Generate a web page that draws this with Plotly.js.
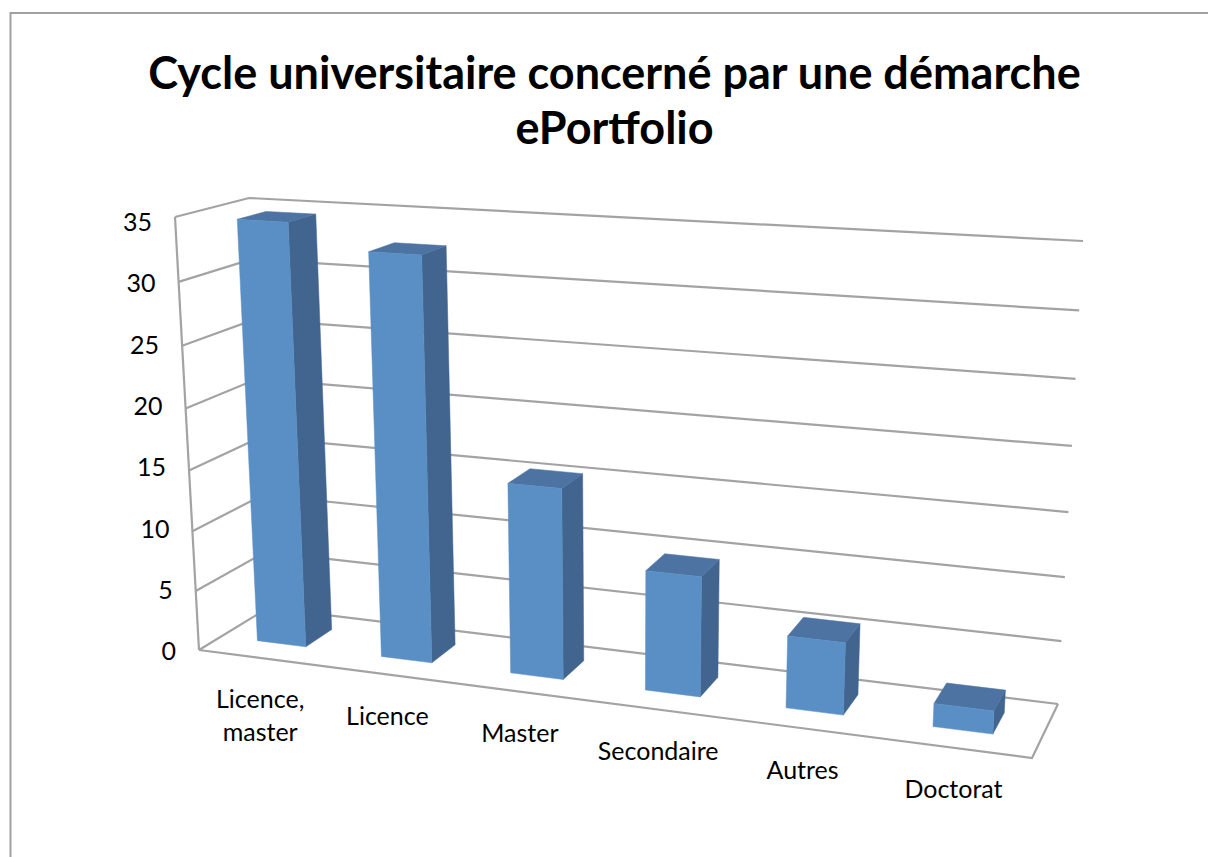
<!DOCTYPE html>
<html><head><meta charset="utf-8">
<script src="https://cdn.plot.ly/plotly-3.0.1.min.js"></script>
<style>html,body{margin:0;padding:0;background:#fff}#c{width:1208px;height:857px}</style></head>
<body><div id="c"></div>
<script>
const categories = ['Licence,<br>master','Licence','Master','Secondaire','Autres','Doctorat'];
const values = [34.5, 32.6, 15.4, 9.6, 5.7, 1.8];
const yTicks = [0,5,10,15,20,25,30,35];
const yMax = 35;

// corners of the 3D chart box as seen on the page
const FRONT = {bl:[199,650], br:[1032,758], tl:[175,217], tr:[1060,269]};
const BACK  = {bl:[268,608], br:[1058,704], tl:[249,198], tr:[1083,241]};

function quad(q){ // unit square -> quadrilateral homography
  const [x0,y0]=q.bl,[x1,y1]=q.br,[x2,y2]=q.tr,[x3,y3]=q.tl;
  const dx1=x1-x2,dx2=x3-x2,sx=x0-x1+x2-x3,dy1=y1-y2,dy2=y3-y2,sy=y0-y1+y2-y3;
  const den=dx1*dy2-dx2*dy1;
  const g=(sx*dy2-dx2*sy)/den,h=(dx1*sy-sx*dy1)/den;
  const a=x1-x0+g*x1,b=x3-x0+h*x3,d=y1-y0+g*y1,e=y3-y0+h*y3;
  return (u,v)=>{const w=g*u+h*v+1;return [(a*u+b*v+x0)/w,(d*u+e*v+y0)/w];};
}
const hF=quad(FRONT),hB=quad(BACK);
function P(cat,val,depth){
  const u=cat/categories.length,v=val/yMax;
  const A=hF(u,v),B=hB(u,v);
  return [A[0]+(B[0]-A[0])*depth,A[1]+(B[1]-A[1])*depth];
}
const traces=[];
const GRID='#a3a3a3';
function line(pts,w){traces.push({type:'scatter',mode:'lines',x:pts.map(p=>p[0]),y:pts.map(p=>p[1]),
  line:{color:GRID,width:w||2.2},hoverinfo:'skip',showlegend:false});}
const N=categories.length;
// gridlines: left wall then back wall
yTicks.forEach(t=>line([P(0,t,0),P(0,t,1),P(N,t,1)]));
line([P(0,0,0),P(0,yMax,0)]);
line([P(0,0,0),P(N,0,0),P(N,0,1)]);
// bars
const gapLo=0.295,gapHi=0.69,dLo=0.33,dHi=0.73;
function face(pts,color){
  const c=pts.concat([pts[0]]);
  traces.push({type:'scatter',mode:'lines',x:c.map(p=>p[0]),y:c.map(p=>p[1]),fill:'toself',fillcolor:color,
    line:{color:color,width:0.5},hoverinfo:'skip',showlegend:false});
}
values.forEach((val,i)=>{
  const a=i+gapLo,b=i+gapHi;
  face([P(b,0,dLo),P(b,0,dHi),P(b,val,dHi),P(b,val,dLo)],'#41658f');
  face([P(a,val,dLo),P(b,val,dLo),P(b,val,dHi),P(a,val,dHi)],'#4c73a1');
  face([P(a,0,dLo),P(b,0,dLo),P(b,val,dLo),P(a,val,dLo)],'#5a8fc5');
});
// tick labels
const TF={family:'Lato, Carlito, sans-serif',size:25,color:'#000'};
traces.push({type:'scatter',mode:'text',x:yTicks.map(t=>P(0,t,0)[0]-23),y:yTicks.map(t=>654-12.26*t),
  text:yTicks.map(String),textposition:'middle left',textfont:TF,hoverinfo:'skip',showlegend:false});
traces.push({type:'scatter',mode:'text',x:categories.map((c,i)=>P(i+0.5,0,0)[0]-0.5),y:categories.map((c,i)=>P(i+0.5,0,0)[1]+31.5),
  text:categories,textposition:'bottom center',textfont:TF,hoverinfo:'skip',showlegend:false});

const layout={
  width:1208,height:857,margin:{l:0,r:0,t:0,b:0},paper_bgcolor:'#fff',plot_bgcolor:'#fff',showlegend:false,
  xaxis:{range:[0,1208],visible:false,fixedrange:true},
  yaxis:{range:[857,0],visible:false,fixedrange:true},
  title:{text:'<span style="font-size:45px">Cycle universitaire concerné par une démarche</span><br><span style="font-size:45px">ePortfolio</span>',
    font:{family:'Lato, Carlito, sans-serif',size:42.3,color:'#000',weight:700},
    x:0.5087,xanchor:'center',y:0.896,yanchor:'top'},
  shapes:[{type:'path',xref:'x',yref:'y',path:'M10.5,857 L10.5,13 L1208,13',line:{color:'#a0a0a0',width:2}}]
};
Plotly.newPlot('c',traces,layout,{displayModeBar:false,staticPlot:true});
</script></body></html>
